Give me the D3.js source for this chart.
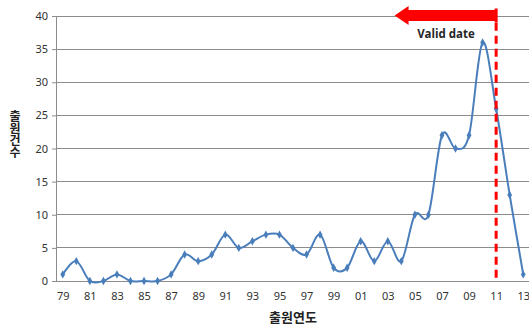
<!DOCTYPE html>
<html><head><meta charset="utf-8">
<script src="https://cdn.jsdelivr.net/npm/d3@7"></script>
<style>body{margin:0;background:#fff;}svg{display:block;font-family:"Noto Sans CJK KR","Noto Sans",sans-serif;}</style>
</head><body>
<svg id="c" width="529" height="327"></svg>
<script>
const years = ["79","80","81","82","83","84","85","86","87","88","89","90","91","92","93","94","95","96","97","98","99","00","01","02","03","04","05","06","07","08","09","10","11","12","13"];
const counts = [1,3,0,0,1,0,0,0,1,4,3,4,7,5,6,7,7,5,4,7,2,2,6,3,6,3,10,10,22,20,22,36,26,13,1];
const yTicks = [0,5,10,15,20,25,30,35,40];
const xTickLabels = years.filter((d,i)=>i%2===0);
const cutoffYear = "11";
const arrowFromYear = "03";
const yTitle = "출원건수";
const xTitle = "출원연도";
const noteText = "Valid date";

const svg = d3.select("#c");
const x = d3.scalePoint().domain(years).range([56, 530]).padding(0.5);
const y = d3.scaleLinear().domain([0,40]).range([281, 16]);

// gridlines
svg.append("g").selectAll("line").data(yTicks).join("line")
  .attr("x1",56).attr("x2",529).attr("y1",d=>y(d)).attr("y2",d=>y(d))
  .attr("stroke","#8c8c8c").attr("stroke-width",1).attr("shape-rendering","crispEdges");

// y axis
const ya = svg.append("g").attr("transform","translate(56,0)")
  .call(d3.axisLeft(y).tickValues(yTicks).tickSize(4).tickPadding(4));
ya.select(".domain").attr("stroke","#8c8c8c");
ya.selectAll(".tick line").attr("stroke","#8c8c8c");
ya.selectAll("text").attr("font-size",11).attr("fill","#333").attr("font-family","Noto Sans, sans-serif");

// x axis
const xa = svg.append("g").attr("transform","translate(0,281)")
  .call(d3.axisBottom(x).tickValues(xTickLabels).tickSize(0).tickPadding(11));
xa.select(".domain").remove();
xa.selectAll("text").attr("font-size",11).attr("fill","#333").attr("font-family","Noto Sans, sans-serif");

// line
const line = d3.line().x((d,i)=>x(years[i])).y(d=>y(d)).curve(d3.curveCatmullRom.alpha(0));
svg.append("path").datum(counts).attr("d",line).attr("fill","none")
  .attr("stroke","#4a7ebb").attr("stroke-width",2).attr("stroke-linejoin","round");
svg.append("g").selectAll("path").data(counts).join("path")
  .attr("transform",(d,i)=>`translate(${x(years[i])},${y(d)})`)
  .attr("d",d3.symbol(d3.symbolDiamond,20)).attr("fill","#4a7ebb");

// cutoff dashed line
const cx = x(cutoffYear);
svg.append("line").attr("x1",cx).attr("x2",cx).attr("y1",y(39)).attr("y2",y(0))
  .attr("stroke","#ff0000").attr("stroke-width",3).attr("stroke-dasharray","8,5");

// arrow
const ay = y(40) - 0.5;
const tipX = x(arrowFromYear) + x.step()/2;
const arr = d3.path();
arr.moveTo(cx, ay-5.5); arr.lineTo(tipX+14, ay-5.5); arr.lineTo(tipX+14, ay-9.5);
arr.lineTo(tipX, ay); arr.lineTo(tipX+14, ay+9.5); arr.lineTo(tipX+14, ay+5.5);
arr.lineTo(cx, ay+5.5); arr.closePath();
svg.append("path").attr("d",arr.toString()).attr("fill","#ff0000");
svg.append("rect").attr("x",cx-1.5).attr("y",ay-7).attr("width",3).attr("height",14).attr("fill","#ff0000");

svg.append("text").attr("x",446).attr("y",y(36.7)).attr("text-anchor","middle")
  .attr("font-size",11.5).attr("font-weight","bold").attr("fill","#262626")
  .attr("font-family","Open Sans, sans-serif").text(noteText);

// y title stacked (vertical writing)
svg.append("text").attr("x",15).attr("y",110)
  .style("writing-mode","vertical-rl").style("text-orientation","upright")
  .attr("font-size",12).attr("font-weight","bold").attr("fill","#222").text(yTitle);
svg.append("text").attr("x",293).attr("y",322).attr("text-anchor","middle")
  .attr("font-size",13).attr("font-weight","bold").attr("fill","#222").text(xTitle);
</script>
</body></html>
